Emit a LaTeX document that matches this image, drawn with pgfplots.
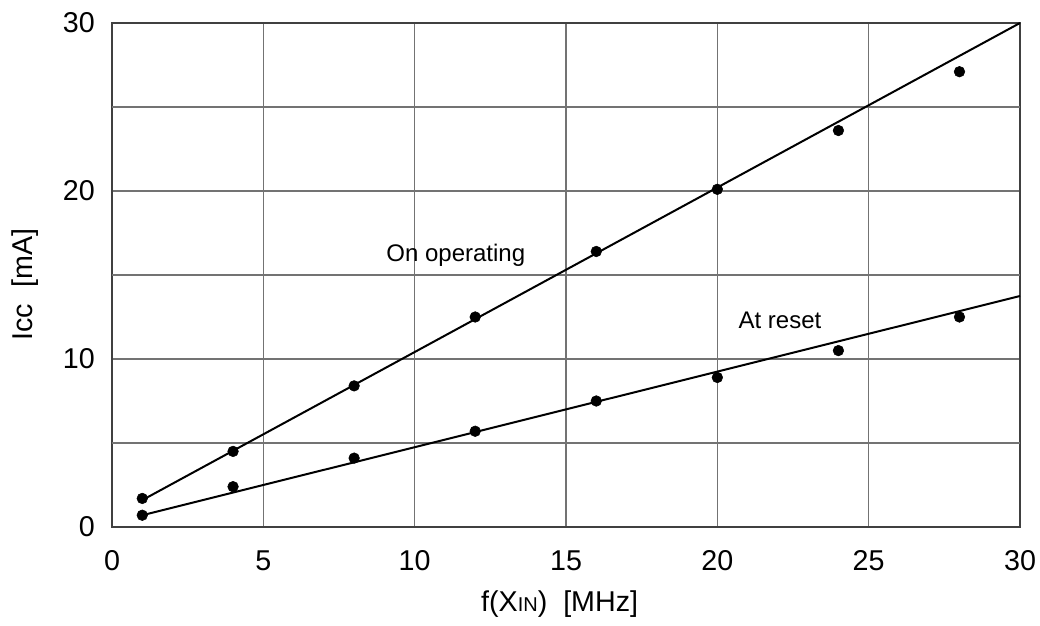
\documentclass[border=0pt]{standalone}
\usepackage{pgfplots}
\pgfplotsset{compat=1.18}
\usepackage{fontspec}
\setmainfont{Liberation Sans}
\begin{document}
\begin{tikzpicture}[font=\fontsize{18pt}{21pt}\selectfont]
\begin{axis}[
  name=ax,
  scale only axis,
  width=681pt, height=378pt,
  xmin=0, xmax=30, ymin=0, ymax=30,
  xtick={0,5,...,30},
  ytick={0,10,20,30},
  extra y ticks={5,15,25},
  extra y tick labels={},
  extra y tick style={grid=major},
  grid=major,
  major grid style={draw=black!55, line width=0.9pt},
  axis line style={draw=black!75, line width=1.4pt},
  tick style={draw=none},
  /pgf/number format/assume math mode=true,
  tick label style={font=\fontsize{21.5pt}{25pt}\selectfont},
  label style={font=\fontsize{21.5pt}{25pt}\selectfont},
  xticklabel style={anchor=center, inner sep=0pt, yshift=-25.5pt},
  yticklabel style={anchor=east, inner sep=0pt, xshift=-12.75pt},
  xlabel={f(X{\fontsize{15pt}{17pt}\selectfont IN})\ \ [MHz]},
  ylabel={Icc\ \ [mA]},
  xlabel style={at={(rel axis cs:0.493,-0.1525)}, anchor=center},
  ylabel style={at={(rel axis cs:-0.0958,0.481)}, anchor=center},
  clip=false,
]
\addplot[black, line width=1.5pt] coordinates {(1,1.6) (30,30)};
\addplot[black, line width=1.5pt] coordinates {(1,0.7) (30,13.75)};
\addplot[only marks, mark=*, mark size=4pt, black] coordinates {
(1,1.7) (4,4.5) (8,8.4) (12,12.5) (16,16.4) (20,20.1) (24,23.6) (28,27.1)};
\addplot[only marks, mark=*, mark size=4pt, black] coordinates {
(1,0.7) (4,2.4) (8,4.1) (12,5.7) (16,7.5) (20,8.9) (24,10.5) (28,12.5)};
\node at (axis cs:11.36,16.2) {On operating};
\node at (axis cs:22.07,12.3) {At reset};
\end{axis}
\path[use as bounding box] ([xshift=-84pt,yshift=-74.25pt]ax.south west) rectangle ([xshift=15pt,yshift=17.25pt]ax.north east);
\end{tikzpicture}
\end{document}
